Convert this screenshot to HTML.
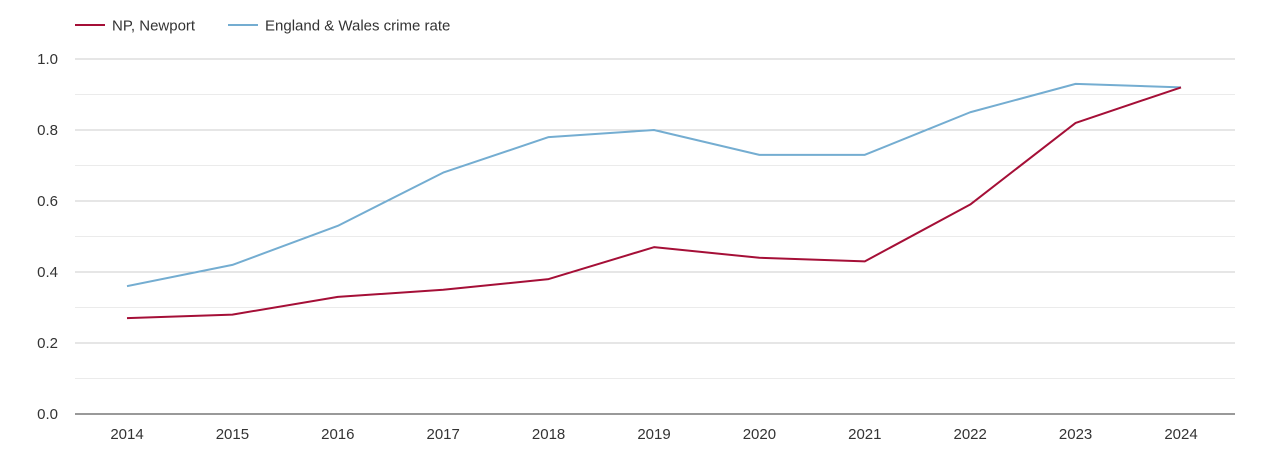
<!DOCTYPE html>
<html><head><meta charset="utf-8"><style>
body{margin:0;background:#fff;font-family:"Liberation Sans",sans-serif;}
svg text{font-family:"Liberation Sans",sans-serif;fill:#333;}
</style></head><body>
<svg id="c" width="1270" height="450">
<g>
<line x1="75" y1="25" x2="105" y2="25" stroke="#a50f37" stroke-width="2"/>
<text x="112" y="30.5" font-size="15">NP, Newport</text>
<line x1="228" y1="25" x2="258" y2="25" stroke="#74add1" stroke-width="2"/>
<text x="265" y="30.5" font-size="15">England &amp; Wales crime rate</text>
</g>
<g id="grid"></g><g id="axes"></g><g id="series"></g>
</svg>
<script>
const years=["2014","2015","2016","2017","2018","2019","2020","2021","2022","2023","2024"];
const newport=[0.27,0.28,0.33,0.35,0.38,0.47,0.44,0.43,0.59,0.82,0.92];
const englandWales=[0.36,0.42,0.53,0.68,0.78,0.80,0.73,0.73,0.85,0.93,0.92];
const yTicks=["0.0","0.2","0.4","0.6","0.8","1.0"];
const NS="http://www.w3.org/2000/svg";
const x=i=>127+i*(1181-127)/(years.length-1);
const y=v=>414-v*355;
function mk(t,a,p){const e=document.createElementNS(NS,t);for(const k in a)e.setAttribute(k,a[k]);p.appendChild(e);return e;}
const grid=document.getElementById('grid'),axes=document.getElementById('axes'),series=document.getElementById('series');
for(let k=1;k<=10;k++){
  const v=k/10;
  const l=mk('line',{x1:75,x2:1235,y1:y(v),y2:y(v),stroke:k%2?'#ebebeb':'#cccccc','stroke-width':1},grid);
  
  
}
yTicks.forEach(t=>{
  const e=mk('text',{x:58,y:y(parseFloat(t))+5,'font-size':15,'text-anchor':'end'},axes);
  e.textContent=t;
  
  
});
const ax=mk('line',{x1:75,x2:1235,y1:414,y2:414,stroke:'#333','stroke-width':1},axes);


years.forEach((t,i)=>{
  const e=mk('text',{x:x(i),y:439,'font-size':15,'text-anchor':'middle'},axes);
  e.textContent=t;
  
  
});
function line(d,c,n){
  const p=mk('polyline',{points:d.map((v,i)=>x(i)+','+y(v)).join(' '),fill:'none',stroke:c,'stroke-width':2,'stroke-linejoin':'round'},series);
  
  
}
line(englandWales,'#74add1','england-wales-line');
line(newport,'#a50f37','newport-line');
</script>
</body></html>
